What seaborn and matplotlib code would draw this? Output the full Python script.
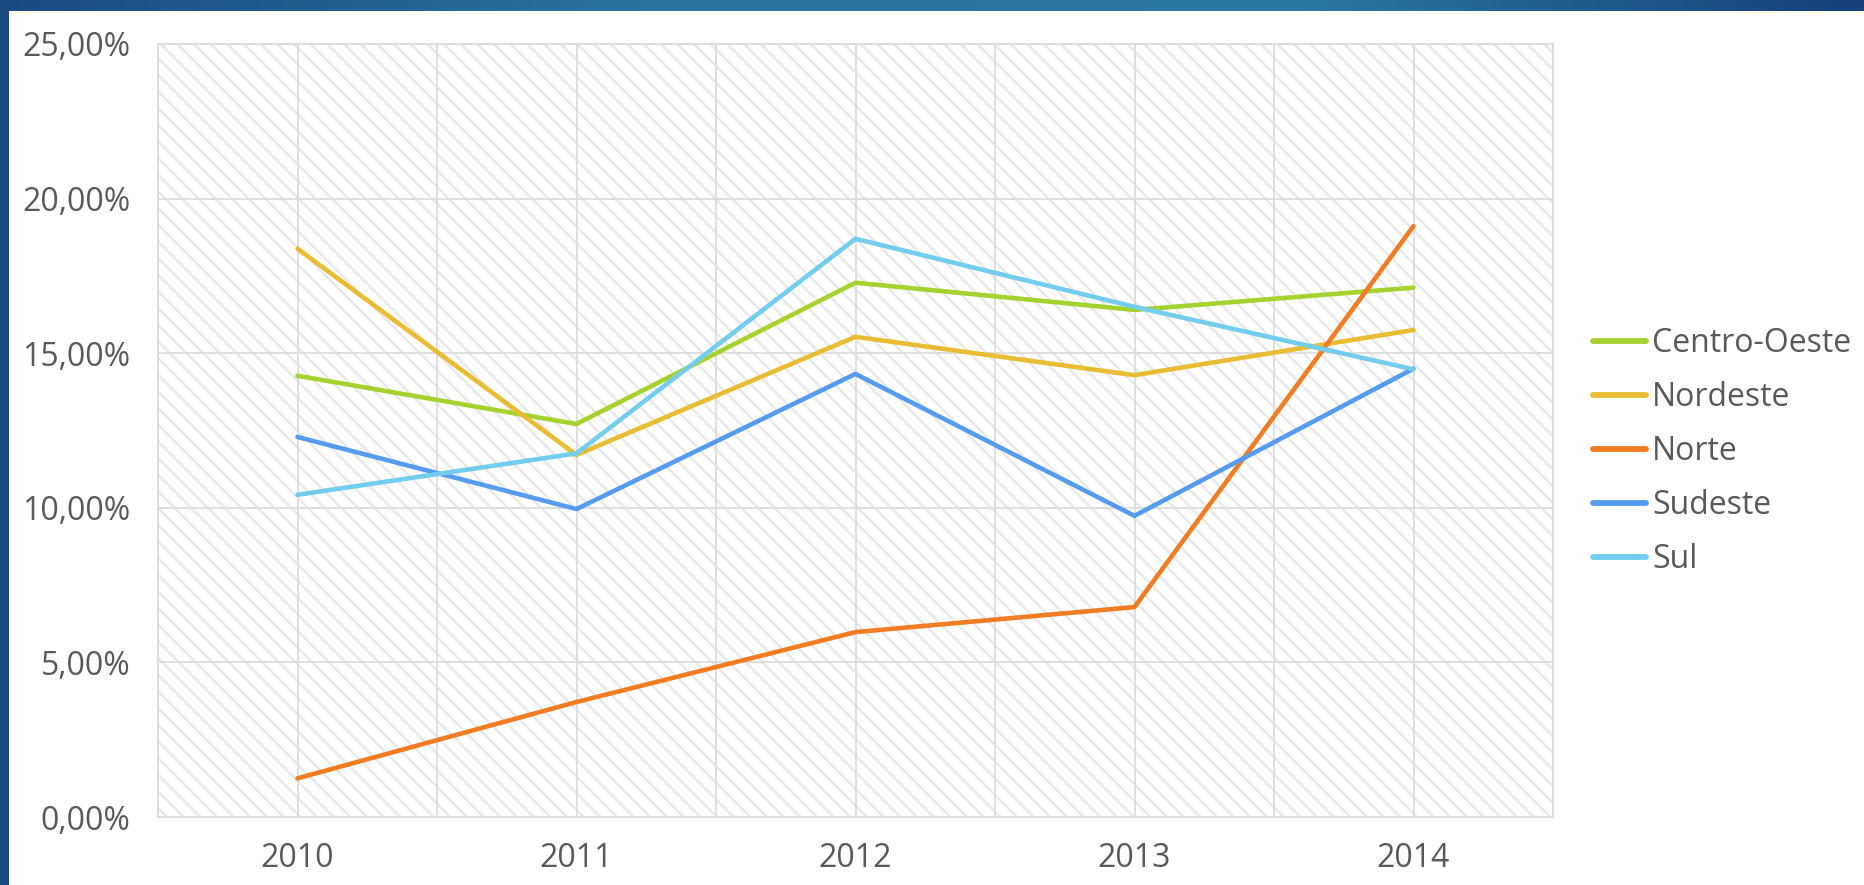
import matplotlib
matplotlib.use("Agg")
import matplotlib.pyplot as plt
import numpy as np
import pandas as pd
import seaborn as sns
from matplotlib.colors import LinearSegmentedColormap
from matplotlib.patches import Rectangle
from matplotlib.ticker import FixedLocator, FuncFormatter

# dados (% por região e ano)
ANOS = ["2010", "2011", "2012", "2013", "2014"]
REGIOES = ["Centro-Oeste", "Nordeste", "Norte", "Sudeste", "Sul"]
centro_oeste = [14.27, 12.71, 17.28, 16.40, 17.12]
nordeste = [18.38, 11.71, 15.53, 14.29, 15.75]
norte = [1.25, 3.72, 5.98, 6.79, 19.11]
sudeste = [12.29, 9.96, 14.33, 9.74, 14.50]
sul = [10.42, 11.76, 18.70, 16.50, 14.48]
Y_TICKS = [0, 5, 10, 15, 20, 25]

CORES = ["#a5d22f", "#e8bd33", "#f07d24", "#559bef", "#72cdee"]
TEXTO = "#595959"
GRADE = "#dcdcdc"

sns.set_theme(style="white")
plt.rcParams["font.family"] = ["Open Sans", "DejaVu Sans"]
plt.rcParams["hatch.linewidth"] = 1.7

series = [centro_oeste, nordeste, norte, sudeste, sul]
df = pd.DataFrame({
    "pos": np.tile(np.arange(len(ANOS)), len(REGIOES)),
    "valor": np.concatenate(series),
    "regiao": np.repeat(REGIOES, len(ANOS)),
})

fig = plt.figure(figsize=(18.64, 8.85), dpi=100)
fig.patch.set_facecolor("white")

# moldura azul (faixa superior em degradê + faixa esquerda)
topo = fig.add_axes([0, 1 - 11 / 885, 1, 11 / 885])
cmap = LinearSegmentedColormap.from_list(
    "faixa", [(0, "#1a4a82"), (0.35, "#2a74a0"), (0.7, "#2a78a2"), (1, "#15407a")])
topo.imshow(np.linspace(0, 1, 256)[None, :], aspect="auto", cmap=cmap)
topo.axis("off")
esq = fig.add_axes([0, 0, 9 / 1864, 1])
esq.set_facecolor("#1a4a82")
esq.set_xticks([]); esq.set_yticks([])
for s in esq.spines.values():
    s.set_visible(False)

ax = fig.add_axes([158 / 1864, 1 - 817 / 885, (1553 - 158) / 1864, (817 - 44) / 885])
ax.add_patch(Rectangle((0, 0), 1, 1, transform=ax.transAxes, facecolor="white",
                       edgecolor="#e8e8e8", hatch="\\\\", lw=0, zorder=0.1))

sns.lineplot(data=df, x="pos", y="valor", hue="regiao", hue_order=REGIOES,
             palette=CORES, linewidth=3.3, ax=ax, zorder=3)
for ln in ax.get_lines():
    ln.set_solid_capstyle("round")
    ln.set_solid_joinstyle("round")

ax.set_xlim(-0.5, len(ANOS) - 0.5)
ax.set_ylim(0, 25)
ax.set_xticks(range(len(ANOS)))
ax.set_xticklabels(ANOS)
ax.xaxis.set_minor_locator(FixedLocator(np.arange(-0.5, len(ANOS), 1.0)))
ax.set_yticks(Y_TICKS)
ax.yaxis.set_major_formatter(FuncFormatter(lambda v, p: f"{v:.2f}%".replace(".", ",")))
ax.set_axisbelow(True)
ax.grid(True, which="major", color=GRADE, lw=1.3)
ax.grid(True, which="minor", axis="x", color=GRADE, lw=1.3)
ax.tick_params(which="both", length=0, labelsize=23, colors=TEXTO)
ax.tick_params(axis="y", pad=20)
ax.tick_params(axis="x", pad=18)
ax.set_xlabel("")
ax.set_ylabel("")
for s in ax.spines.values():
    s.set_color(GRADE)
    s.set_linewidth(1.3)

handles, labels = ax.get_legend_handles_labels()
ax.get_legend().remove()
leg = fig.legend(handles, labels, loc="center left", bbox_to_anchor=(0.8546, 0.49),
                 frameon=False, fontsize=23, handlelength=1.65, handletextpad=0.2,
                 labelspacing=0.66, borderpad=0, borderaxespad=0)
for t in leg.get_texts():
    t.set_color(TEXTO)
for h in leg.get_lines():
    h.set_linewidth(4.2)
    h.set_solid_capstyle("round")

fig.savefig("out.png", dpi=100)
